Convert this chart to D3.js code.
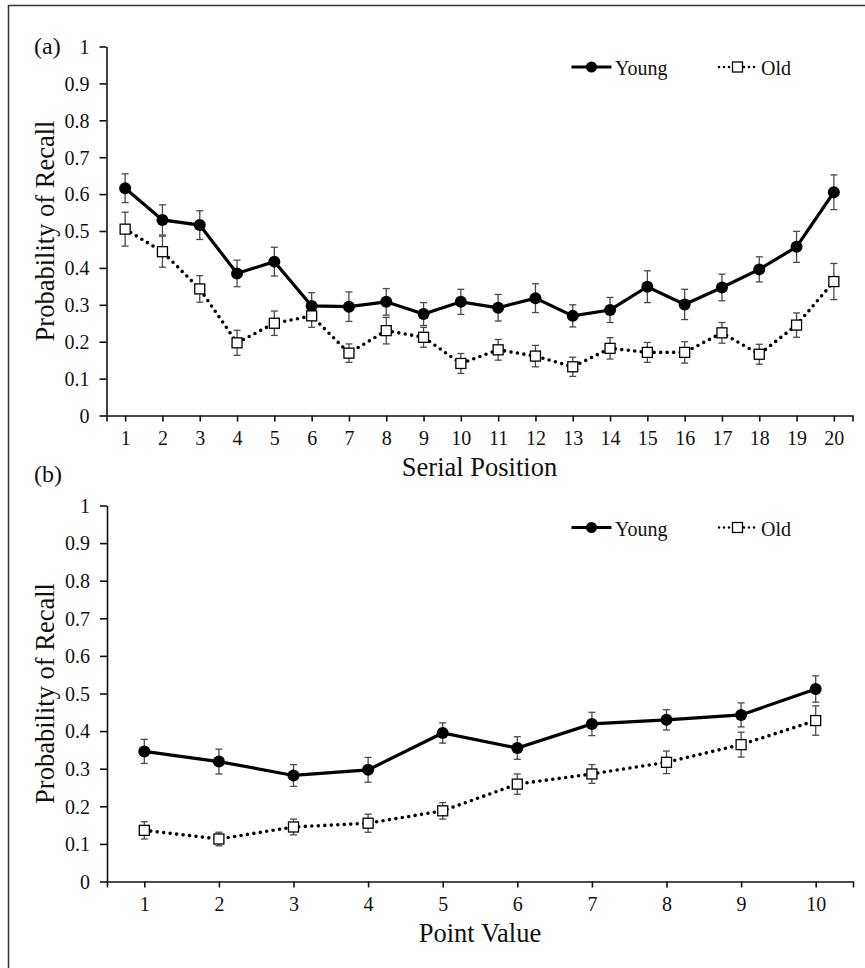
<!DOCTYPE html>
<html>
<head>
<meta charset="utf-8">
<script src="https://cdn.jsdelivr.net/npm/d3@7"></script>
<style>
  body { margin: 0; background: #fff; }
  svg text { font-family: "Liberation Serif", "Times New Roman", serif; fill: #111; }
</style>
</head>
<body>
<div id="chart"></div>
<script>
// panel (a): serial position
var serialPos = d3.range(1, 21);
var youngA = [0.616, 0.530, 0.516, 0.385, 0.417, 0.297, 0.295, 0.308, 0.275, 0.308,
              0.292, 0.318, 0.270, 0.286, 0.349, 0.301, 0.347, 0.396, 0.457, 0.605];
var youngAErr = [0.039, 0.041, 0.039, 0.036, 0.039, 0.036, 0.040, 0.036, 0.031, 0.034,
                 0.036, 0.039, 0.030, 0.034, 0.043, 0.041, 0.036, 0.034, 0.042, 0.047];
var oldA = [0.505, 0.444, 0.343, 0.197, 0.250, 0.270, 0.169, 0.230, 0.212, 0.141,
            0.178, 0.161, 0.132, 0.182, 0.171, 0.171, 0.224, 0.166, 0.245, 0.363];
var oldAErr = [0.046, 0.042, 0.036, 0.034, 0.033, 0.031, 0.025, 0.036, 0.027, 0.027,
               0.028, 0.029, 0.026, 0.029, 0.027, 0.029, 0.028, 0.027, 0.033, 0.049];

// panel (b): point value
var pointVal = d3.range(1, 11);
var youngB = [0.346, 0.319, 0.282, 0.297, 0.395, 0.355, 0.419, 0.430, 0.443, 0.512];
var youngBErr = [0.032, 0.033, 0.029, 0.033, 0.027, 0.030, 0.031, 0.027, 0.032, 0.035];
var oldB = [0.136, 0.113, 0.145, 0.155, 0.188, 0.259, 0.286, 0.317, 0.364, 0.428];
var oldBErr = [0.023, 0.018, 0.021, 0.024, 0.022, 0.027, 0.025, 0.030, 0.033, 0.039];

var yTicks = d3.range(0, 11).map(function (d) { return d / 10; });
var seriesNames = ["Young", "Old"];

var svg = d3.select("#chart").append("svg")
    .attr("width", 865)
    .attr("height", 968);

// outer frame (only top and left edges visible in the picture)
svg.append("path")
    .attr("d", "M8.5,968V5.5H865")
    .attr("fill", "none")
    .attr("stroke", "#333")
    .attr("stroke-width", 1.5);

function drawPanel(cfg) {
    var x = d3.scalePoint()
        .domain(cfg.cats)
        .range([cfg.left, cfg.right])
        .padding(0.5);
    var y = d3.scaleLinear()
        .domain([0, 1])
        .range([cfg.bottom, cfg.top]);

    var g = svg.append("g");

    var xAxis = g.append("g")
        .attr("transform", "translate(0," + cfg.bottom + ")")
        .call(d3.axisBottom(x).tickSize(6).tickSizeOuter(6).tickPadding(9));
    var yAxis = g.append("g")
        .attr("transform", "translate(" + cfg.left + ",0)")
        .call(d3.axisLeft(y).tickValues(yTicks).tickSize(7).tickSizeOuter(0).tickPadding(10)
            .tickFormat(function (d) { return d === 0 ? "0" : d === 1 ? "1" : d3.format(".1f")(d); }));

    [xAxis, yAxis].forEach(function (a) {
        a.selectAll("path, line").attr("stroke", "#111").attr("stroke-width", 1.6);
        a.selectAll("text").attr("font-size", 20).attr("fill", "#111")
            .style("font-family", "'Liberation Serif', 'Times New Roman', serif");
    });
    yAxis.selectAll("text").attr("dy", "0.34em");

    // axis titles
    g.append("text")
        .attr("x", (cfg.left + cfg.right) / 2)
        .attr("y", cfg.bottom + 60)
        .attr("text-anchor", "middle")
        .attr("font-size", 26.5)
        .text(cfg.xTitle);
    g.append("text")
        .attr("transform", "translate(54," + (cfg.top + cfg.bottom) / 2 + ") rotate(-90)")
        .attr("text-anchor", "middle")
        .attr("font-size", 26.5)
        .text("Probability of Recall");
    g.append("text")
        .attr("x", 34)
        .attr("y", cfg.labelY)
        .attr("font-size", 24)
        .text(cfg.label);

    var line = d3.line()
        .x(function (d) { return x(d.c); })
        .y(function (d) { return y(d.v); });

    var series = [
        { name: "Young", vals: cfg.young, err: cfg.youngErr },
        { name: "Old", vals: cfg.old, err: cfg.oldErr }
    ].map(function (s) {
        s.pts = cfg.cats.map(function (c, i) { return { c: c, v: s.vals[i], e: s.err[i] }; });
        return s;
    });

    // lines
    series.forEach(function (s) {
        g.append("path")
            .datum(s.pts)
            .attr("d", line)
            .attr("fill", "none")
            .attr("stroke", "#000")
            .attr("stroke-width", s.name === "Young" ? 3.2 : 3.6)
            .attr("stroke-linecap", "round")
            .attr("stroke-dasharray", s.name === "Young" ? null : "0 6.5");
    });

    // error bars
    series.forEach(function (s) {
        var eb = g.append("g").selectAll("g").data(s.pts).enter().append("g");
        eb.append("line")
            .attr("x1", function (d) { return x(d.c); })
            .attr("x2", function (d) { return x(d.c); })
            .attr("y1", function (d) { return y(d.v + d.e); })
            .attr("y2", function (d) { return y(d.v - d.e); });
        eb.append("line")
            .attr("x1", function (d) { return x(d.c) - 3.5; })
            .attr("x2", function (d) { return x(d.c) + 3.5; })
            .attr("y1", function (d) { return y(d.v + d.e); })
            .attr("y2", function (d) { return y(d.v + d.e); });
        eb.append("line")
            .attr("x1", function (d) { return x(d.c) - 3.5; })
            .attr("x2", function (d) { return x(d.c) + 3.5; })
            .attr("y1", function (d) { return y(d.v - d.e); })
            .attr("y2", function (d) { return y(d.v - d.e); });
        eb.selectAll("line").attr("stroke", "#4a4a4a").attr("stroke-width", 1.3);
    });

    // markers
    g.append("g").selectAll("circle")
        .data(series[0].pts).enter().append("circle")
        .attr("cx", function (d) { return x(d.c); })
        .attr("cy", function (d) { return y(d.v); })
        .attr("r", 6)
        .attr("fill", "#000");
    g.append("g").selectAll("rect")
        .data(series[1].pts).enter().append("rect")
        .attr("x", function (d) { return x(d.c) - 5; })
        .attr("y", function (d) { return y(d.v) - 5; })
        .attr("width", 10)
        .attr("height", 10)
        .attr("fill", "#fff")
        .attr("stroke", "#000")
        .attr("stroke-width", 1.3);

    // legend
    var ly = cfg.legendY;
    var leg = g.append("g");
    leg.append("line")
        .attr("x1", 571.5).attr("x2", 611.5).attr("y1", ly).attr("y2", ly)
        .attr("stroke", "#000").attr("stroke-width", 3.2);
    leg.append("circle").attr("cx", 591.5).attr("cy", ly).attr("r", 5.5).attr("fill", "#000");
    leg.append("text").attr("x", 615).attr("y", ly + 8).attr("font-size", 20).text(seriesNames[0]);
    leg.append("line")
        .attr("x1", 719).attr("x2", 757).attr("y1", ly).attr("y2", ly)
        .attr("stroke", "#000").attr("stroke-width", 2.6)
        .attr("stroke-linecap", "round").attr("stroke-dasharray", "0 5");
    leg.append("rect").attr("x", 732.5).attr("y", ly - 5).attr("width", 10).attr("height", 10)
        .attr("fill", "#fff").attr("stroke", "#000").attr("stroke-width", 1.3);
    leg.append("text").attr("x", 761).attr("y", ly + 8).attr("font-size", 20).text(seriesNames[1]);
}

drawPanel({
    cats: serialPos, young: youngA, youngErr: youngAErr, old: oldA, oldErr: oldAErr,
    left: 106.5, right: 852.5, top: 46.5, bottom: 415.5,
    xTitle: "Serial Position", label: "(a)", labelY: 54, legendY: 67
});

drawPanel({
    cats: pointVal, young: youngB, youngErr: youngBErr, old: oldB, oldErr: oldBErr,
    left: 107, right: 853, top: 505.5, bottom: 881.5,
    xTitle: "Point Value", label: "(b)", labelY: 482, legendY: 527.5
});
</script>
</body>
</html>
